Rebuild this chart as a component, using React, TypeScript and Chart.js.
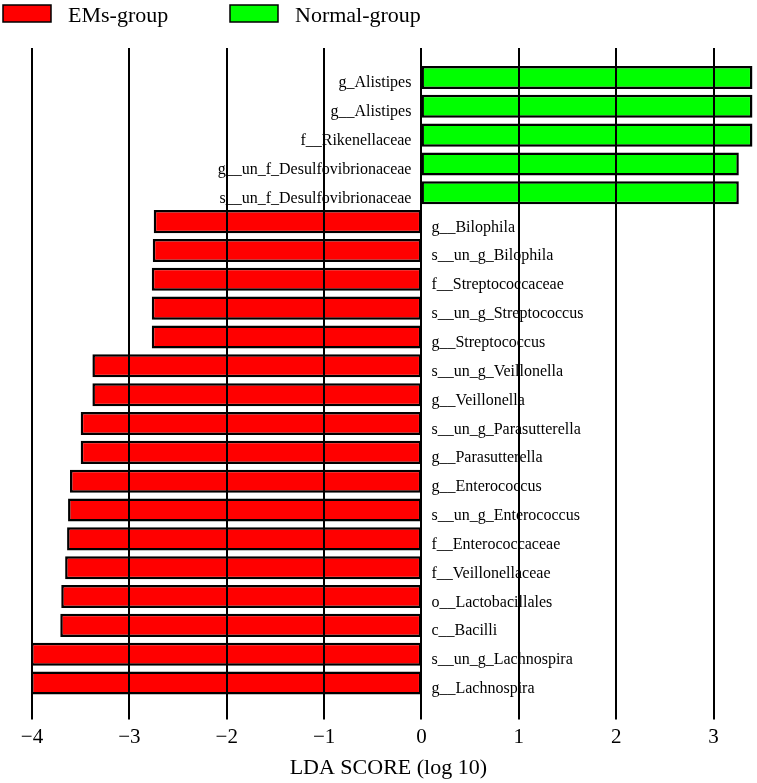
import React, { useEffect, useRef } from "react";
import { Chart, registerables } from "chart.js";

Chart.register(...registerables);

const taxa: string[] = [
  "g_Alistipes",
  "g__Alistipes",
  "f__Rikenellaceae",
  "g__un_f_Desulfovibrionaceae",
  "s__un_f_Desulfovibrionaceae",
  "g__Bilophila",
  "s__un_g_Bilophila",
  "f__Streptococcaceae",
  "s__un_g_Streptococcus",
  "g__Streptococcus",
  "s__un_g_Veillonella",
  "g__Veillonella",
  "s__un_g_Parasutterella",
  "g__Parasutterella",
  "g__Enterococcus",
  "s__un_g_Enterococcus",
  "f__Enterococcaceae",
  "f__Veillonellaceae",
  "o__Lactobacillales",
  "c__Bacilli",
  "s__un_g_Lachnospira",
  "g__Lachnospira",
];

const normalScores: (number | null)[] = [
  3.4, 3.4, 3.4, 3.26, 3.26,
  null, null, null, null, null, null, null, null, null, null, null, null, null, null, null, null, null,
];

const emsScores: (number | null)[] = [
  null, null, null, null, null,
  -2.75, -2.76, -2.77, -2.77, -2.77, -3.38, -3.38, -3.5, -3.5, -3.61, -3.63, -3.64, -3.66, -3.7, -3.71, -4.01, -4.01,
];

const groupNames = ["EMs-group", "Normal-group"];
const groupColors = ["#FF0000", "#00FF00"];
const xTicks = [-4, -3, -2, -1, 0, 1, 2, 3];
const xTitle = "LDA SCORE (log 10)";

const FONT = "'Liberation Serif', 'Times New Roman', serif";

const overlayPlugin = {
  id: "ldaOverlay",
  afterDatasetsDraw(chart: any) {
    const ctx = chart.ctx;
    const xs = chart.scales.x;
    const ys = chart.scales.y;
    const x0 = xs.getPixelForValue(0);
    ctx.save();
    // taxa labels next to zero line
    ctx.font = `16px ${FONT}`;
    ctx.fillStyle = "#000";
    ctx.textBaseline = "alphabetic";
    taxa.forEach((name, i) => {
      const v = normalScores[i] != null ? (normalScores[i] as number) : (emsScores[i] as number);
      const yc = ys.getPixelForValue(i);
      if (v > 0) {
        ctx.textAlign = "right";
        ctx.fillText(name, x0 - 10, yc + 10);
      } else {
        ctx.textAlign = "left";
        ctx.fillText(name, x0 + 10, yc + 10);
      }
    });
    // vertical grid lines over bars, extended as tick marks
    ctx.strokeStyle = "#000";
    ctx.lineWidth = 2;
    const top = 48;
    const bottom = chart.chartArea.bottom + 22;
    xTicks.forEach((t) => {
      const px = Math.round(xs.getPixelForValue(t));
      ctx.beginPath();
      ctx.moveTo(px, top);
      ctx.lineTo(px, bottom);
      ctx.stroke();
    });
    // legend
    const legendX = [3, 230];
    chart.data.datasets.forEach((ds: any, k: number) => {
      const bx = legendX[k];
      ctx.fillStyle = ds.backgroundColor;
      ctx.fillRect(bx, 5, 48, 17);
      ctx.lineWidth = 1.5;
      ctx.strokeStyle = "#000";
      ctx.strokeRect(bx, 5, 48, 17);
      ctx.fillStyle = "#000";
      ctx.font = `22px ${FONT}`;
      ctx.textAlign = "left";
      ctx.fillText(ds.label, bx + 65, 21.5);
    });
    ctx.restore();
  },
};

export default function App() {
  const ref = useRef<HTMLCanvasElement | null>(null);
  useEffect(() => {
    if (!ref.current) return;
    const chart = new Chart(ref.current, {
      type: "bar",
      data: {
        labels: taxa,
        datasets: [
          {
            label: groupNames[0],
            data: emsScores,
            backgroundColor: groupColors[0],
            borderColor: "#000",
            borderWidth: 2.5,
            borderSkipped: false,
          },
          {
            label: groupNames[1],
            data: normalScores,
            backgroundColor: groupColors[1],
            borderColor: "#000",
            borderWidth: 2.5,
            borderSkipped: false,
          },
        ],
      },
      options: {
        indexAxis: "y",
        animation: false,
        responsive: false,
        maintainAspectRatio: false,
        datasets: { bar: { grouped: false, barPercentage: 0.8, categoryPercentage: 1 } },
        layout: { padding: { top: 63, left: 22.3, right: 2.6, bottom: 0 } },
        plugins: { legend: { display: false }, tooltip: { enabled: false } },
        font: { family: FONT },
        scales: {
          y: { display: false },
          x: {
            type: "linear",
            min: -4.1,
            max: 3.42,
            afterBuildTicks: (scale: any) => {
              scale.ticks = xTicks.map((v) => ({ value: v }));
            },
            grid: { display: false, drawTicks: true, tickLength: 22 },
            border: { display: false },
            ticks: {
              color: "#000",
              padding: 7,
              font: { family: FONT, size: 21, lineHeight: 1.0 },
              callback: (v: any) => (Number(v) < 0 ? "\u2212" + Math.abs(Number(v)) : String(v)),
            },
            title: {
              display: true,
              text: xTitle,
              color: "#000",
              font: { family: FONT, size: 22, lineHeight: 1.0 },
              padding: { top: 3, bottom: 3.5 },
            },
          },
        },
      } as any,
      plugins: [overlayPlugin],
    });
    return () => chart.destroy();
  }, []);
  return (
    <div style={{ position: "absolute", left: 0, top: 0, width: 757, height: 783, background: "#fff" }}>
      <canvas ref={ref} width={757} height={783} style={{ width: 757, height: 783 }} />
    </div>
  );
}
